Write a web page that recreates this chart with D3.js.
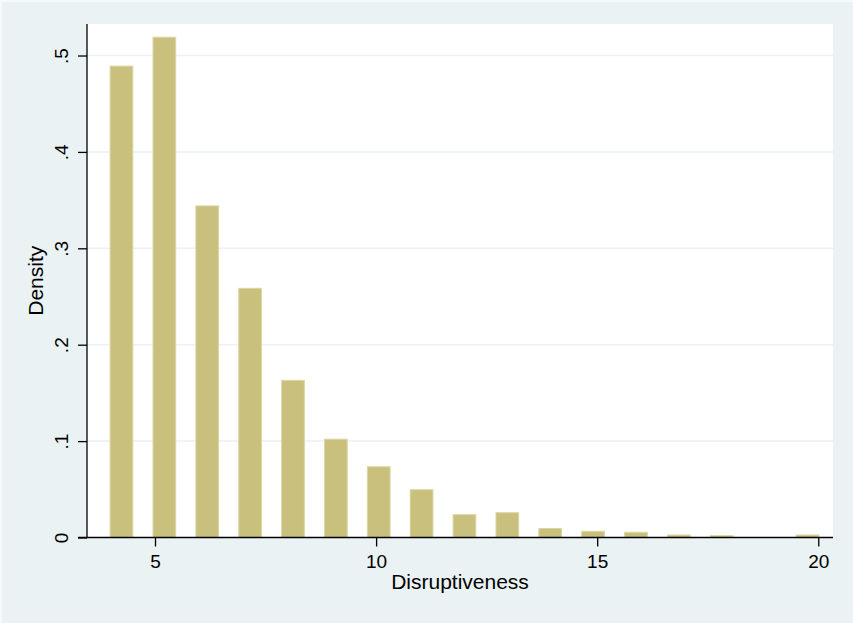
<!DOCTYPE html>
<html>
<head>
    <meta charset="utf-8">
    <style>
        html, body { margin: 0; padding: 0; background: #f6fafa; }
        text { font-family: 'Liberation Sans', Arial, sans-serif; fill: #000; }
    </style>
</head>
<body>
    <svg id="chart" width="853" height="623"></svg>
    <script src="https://cdnjs.cloudflare.com/ajax/libs/d3/7.8.5/d3.min.js"></script>
    <script>
        // histogram of Disruptiveness (density per bin)
        var binStart = 3.757;
        var binWidth = 0.9696;
        var densities = [0.489, 0.519, 0.344, 0.2585, 0.163, 0.102, 0.0734, 0.0496,
                         0.0237, 0.0257, 0.0093, 0.0064, 0.0054, 0.0026, 0.0019, 0, 0.0026];
        var xTicks = [5, 10, 15, 20];
        var yTicks = [0, 0.1, 0.2, 0.3, 0.4, 0.5];
        var yTickLabels = ["0", ".1", ".2", ".3", ".4", ".5"];

        var svg = d3.select("#chart"),
            width = +svg.attr("width"),
            height = +svg.attr("height");

        var plot = {left: 87, right: 833, top: 24, bottom: 537.5};

        var x = d3.scaleLinear().domain([3.462, 20.333]).range([plot.left, plot.right]);
        var y = d3.scaleLinear().domain([0, 0.5327]).range([plot.bottom, plot.top]);

        // outer background + plot region
        svg.append("rect").attr("x", 2).attr("y", 2)
            .attr("width", width - 2).attr("height", height - 2)
            .attr("fill", "#eaf2f3");
        svg.append("rect")
            .attr("x", plot.left).attr("y", plot.top)
            .attr("width", plot.right - plot.left).attr("height", plot.bottom - plot.top)
            .attr("fill", "#fff");

        // gridlines
        svg.append("g").selectAll("line")
            .data(yTicks.filter(function(d) { return d > 0; }))
            .enter().append("line")
            .attr("x1", plot.left).attr("x2", plot.right)
            .attr("y1", function(d) { return y(d); })
            .attr("y2", function(d) { return y(d); })
            .attr("stroke", "#eaf2f3").attr("stroke-width", 1.5);

        // bars (gap between bars like Stata's gap option)
        var barFrac = 0.53;
        var bins = densities.map(function(d, i) {
            return {mid: binStart + (i + 0.5) * binWidth, value: d};
        });
        svg.append("g").selectAll("rect")
            .data(bins.filter(function(d) { return d.value > 0; }))
            .enter().append("rect")
            .attr("x", function(d) { return x(d.mid - binWidth * barFrac / 2); })
            .attr("width", function(d) { return x(d.mid + binWidth * barFrac / 2) - x(d.mid - binWidth * barFrac / 2); })
            .attr("y", function(d) { return y(d.value); })
            .attr("height", function(d) { return y(0) - y(d.value); })
            .attr("fill", "#c9c07e")
            .attr("stroke", "#dcd6a2")
            .attr("stroke-width", 1);

        // axes
        var xAxis = d3.axisBottom(x).tickValues(xTicks).tickSize(9).tickPadding(8)
            .tickFormat(d3.format("d"));
        var gx = svg.append("g").attr("transform", "translate(0," + plot.bottom + ")").call(xAxis);
        gx.select(".domain").attr("d", "M" + (plot.left - 9) + ",0H" + plot.right)
            .attr("stroke", "#000").attr("stroke-width", 1.3);
        gx.selectAll(".tick line").attr("stroke", "#000").attr("stroke-width", 1.3);
        gx.selectAll(".tick text").attr("font-size", 19)
            .attr("font-family", "'Liberation Sans', Arial, sans-serif");

        var yAxis = d3.axisLeft(y).tickValues(yTicks).tickSize(9)
            .tickFormat(function(d, i) { return yTickLabels[i]; });
        var gy = svg.append("g").attr("transform", "translate(" + plot.left + ",0)").call(yAxis);
        gy.select(".domain").attr("d", "M0," + (plot.bottom) + "V" + plot.top)
            .attr("stroke", "#000").attr("stroke-width", 1.3);
        gy.selectAll(".tick line").attr("stroke", "#000").attr("stroke-width", 1.3);
        gy.selectAll(".tick text")
            .attr("font-size", 19)
            .attr("font-family", "'Liberation Sans', Arial, sans-serif")
            .attr("x", null).attr("dy", null)
            .attr("text-anchor", "middle")
            .attr("transform", "translate(-19,0) rotate(-90)");

        // axis titles
        svg.append("text")
            .attr("x", (plot.left + plot.right) / 2).attr("y", 589)
            .attr("text-anchor", "middle").attr("font-size", 21)
            .text("Disruptiveness");
        svg.append("text")
            .attr("transform", "translate(43," + (plot.top + plot.bottom) / 2 + ") rotate(-90)")
            .attr("text-anchor", "middle").attr("font-size", 21)
            .text("Density");
    </script>
</body>
</html>
